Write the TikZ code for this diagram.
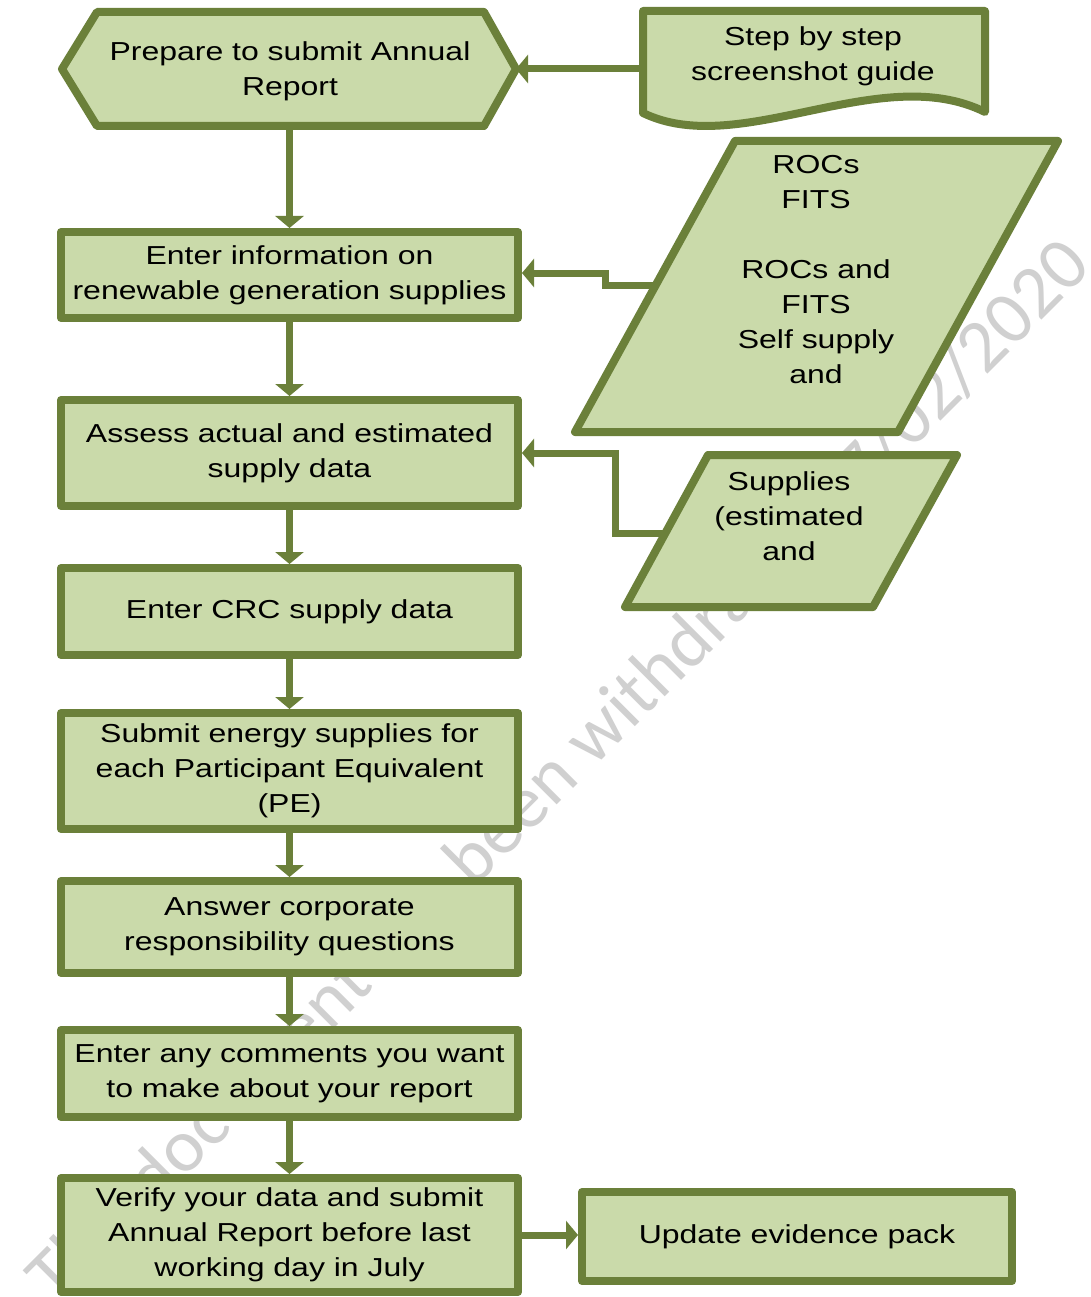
\documentclass[tikz,border=0pt]{standalone}
\usepackage{fontspec}
\setmainfont{Liberation Sans}[FakeStretch=1.23]
\newfontfamily\wmfont{Carlito}
\usetikzlibrary{arrows.meta}
\definecolor{olivedge}{RGB}{107,128,58}
\definecolor{leaf}{RGB}{202,218,170}
\definecolor{wmgray}{RGB}{208,208,208}
\begin{document}
\begin{tikzpicture}[x=1pt,y=-1pt,
  shapeline/.style={draw=olivedge, fill=leaf, line width=8pt, line join=round},
  stepbox/.style={shapeline, rectangle, minimum width=457pt, inner sep=0pt,
    align=center, font=\fontsize{26}{35}\selectfont},
  label/.style={align=center, inner sep=0pt, font=\fontsize{26}{35}\selectfont},
  conn/.style={draw=olivedge, line width=7pt,
    -{Triangle[length=12pt,width=28pt]}, shorten >=0pt},
  wm/.style={text=wmgray, font=\wmfont\fontsize{75}{90}\selectfont, inner sep=0pt}
]
\useasboundingbox (0,0) rectangle (1090,1297);
\fill[white] (0,0) rectangle (1090,1297);

% watermark behind everything
\node[wm, rotate=45] (wm) at (558,770) {This document has been withdrawn 07/02/2020};

% start: hexagon
\draw[shapeline] (62,69) -- (97,12) -- (484,12) -- (516,69) -- (484,126) -- (97,126) -- cycle;
\coordinate (prepE) at (516,69);
\coordinate (prepS) at (289.5,126);
\node[label] (prep) at (290,71) {Prepare to submit Annual\\Report};

% document shape
\draw[shapeline] (643,11) -- (985,11) -- (985,112)
  .. controls (880,60) and (740,160) .. (643,113) -- cycle;
\coordinate (guideW) at (643,69);
\node[label] (guide) at (813,56) {Step by step\\screenshot guide};

% data input: ROCs / FITS
\draw[shapeline] (735,141) -- (1058,141) -- (898,432) -- (575,432) -- cycle;
\coordinate (rocsW) at (656,285);
\node[label] (rocs) at (816,270) {ROCs\\FITS\\\mbox{}\\ROCs and\\FITS\\Self supply\\and};

% data input: supplies
\draw[shapeline] (708,455) -- (957,455) -- (873,607) -- (625,607) -- cycle;
\coordinate (suppW) at (665,533);
\node[label] (supp) at (789,516) {Supplies\\(estimated\\and};

% process steps
\node[stepbox, minimum height=86pt]  (enter)   at (289.5,275)    {Enter information on\\renewable generation supplies};
\node[stepbox, minimum height=106pt] (assess)  at (289.5,453)    {Assess actual and estimated\\supply data};
\node[stepbox, minimum height=87pt]  (crc)     at (289.5,611.5)  {Enter CRC supply data};
\node[stepbox, minimum height=116pt] (submit)  at (289.5,771)    {Submit energy supplies for\\each Participant Equivalent\\(PE)};
\node[stepbox, minimum height=92pt]  (answer)  at (289.5,927)    {Answer corporate\\responsibility questions};
\node[stepbox, minimum height=87pt]  (comment) at (289.5,1073.5) {Enter any comments you want\\to make about your report};
\node[stepbox, minimum height=114pt] (verify)  at (289.5,1235)   {Verify your data and submit\\Annual Report before last\\working day in July};
\node[stepbox, minimum width=430pt, minimum height=89pt] (update) at (797,1236.5) {Update evidence pack};

% connectors
\draw[conn] (guideW) -- (prepE);
\draw[conn] (prepS) -- (enter.north);
\draw[conn] (enter.south) -- (assess.north);
\draw[conn] (assess.south) -- (crc.north);
\draw[conn] (crc.south) -- (submit.north);
\draw[conn] (submit.south) -- (answer.north);
\draw[conn] (answer.south) -- (comment.north);
\draw[conn] (comment.south) -- (verify.north);
\draw[conn] (rocsW) -- ++(-51,0) -- ++(0,-12) -- (enter.east |- 0,273);
\draw[conn] (suppW) -- ++(-50,0) |- (assess.east);
\draw[conn] (verify.east) -- (verify.east -| update.west);
\end{tikzpicture}
\end{document}
